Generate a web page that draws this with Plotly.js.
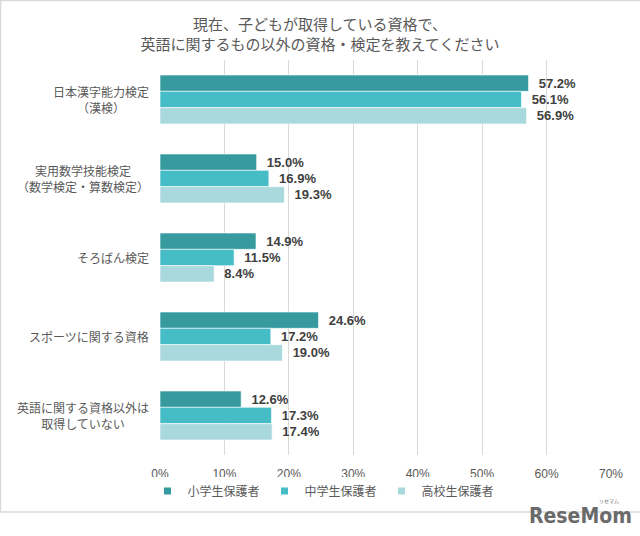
<!DOCTYPE html>
<html>
<head>
<meta charset="utf-8">
<script src="https://cdn.plot.ly/plotly-3.0.1.min.js"></script>
<style>html,body{margin:0;padding:0;background:#fff;}#chart{width:640px;height:536px;}</style>
</head>
<body>
<div id="chart"></div>
<script>
const categories = ["日本漢字能力検定<br>（漢検）", "実用数学技能検定<br>（数学検定・算数検定）", "そろばん検定", "スポーツに関する資格", "英語に関する資格以外は<br>取得していない"];
const seriesNames = ["小学生保護者", "中学生保護者", "高校生保護者"];
const elementary = [57.2, 15.0, 14.9, 24.6, 12.6];
const juniorHigh = [56.1, 16.9, 11.5, 17.2, 17.3];
const highSchool = [56.9, 19.3, 8.4, 19.0, 17.4];
const tickVals = [0, 10, 20, 30, 40, 50, 60, 70];
const tickText = ["0%", "10%", "20%", "30%", "40%", "50%", "60%", "70%"];

const colors = ["#379A9F", "#45BCC6", "#A9D9DD"];
const fontFam = "Liberation Sans, Arial, Noto Sans CJK JP, sans-serif";
const jpFont = "Noto Sans CJK JP, sans-serif";
const seriesData = [elementary, juniorHigh, highSchool];

const traces = seriesData.map((vals, i) => ({
  type: "bar",
  orientation: "h",
  name: seriesNames[i],
  y: categories,
  x: vals,
  text: vals.map(v => "\u00a0\u00a0" + v.toFixed(1) + "%"),
  textposition: "outside",
  cliponaxis: false,
  textfont: {family: fontFam, size: 13, color: "#404040", weight: "bold"},
  marker: {color: colors[i], line: {color: "rgba(255,255,255,0.6)", width: 1}},
  showlegend: false,
  hoverinfo: "none"
}));

// legend entries with small square symbols
seriesNames.forEach((n, i) => {
  traces.push({
    type: "scatter", mode: "markers", name: n,
    x: [null], y: [null],
    marker: {symbol: "square", size: 7, color: colors[i]},
    showlegend: true, hoverinfo: "none"
  });
});

const L = 160, R = 611, T = 60, B = 455, W = 640, H = 536;
const pw = R - L, ph = B - T;
const px = x => (x - L) / pw;
const py = y => (B - y) / ph;

const catAnnotations = categories.map(c => ({
  xref: "paper", yref: "y", x: px(151), y: c,
  xanchor: "right", yanchor: "middle", align: "center",
  text: c, showarrow: false,
  font: {family: jpFont, size: 12, color: "#595959"}
}));

const layout = {
  width: W, height: H,
  margin: {l: L, r: W - R, t: T, b: H - B},
  paper_bgcolor: "#ffffff",
  plot_bgcolor: "#ffffff",
  font: {family: fontFam, color: "#595959", size: 12},
  title: {
    text: "現在、子どもが取得している資格で、<br>英語に関するもの以外の資格・検定を教えてください",
    font: {family: jpFont, size: 15, color: "#595959"},
    x: 0.5, xanchor: "center", xref: "container",
    y: 1 - 30 / H, yanchor: "middle", yref: "container"
  },
  barmode: "group",
  bargap: 0.38,
  bargroupgap: 0,
  showlegend: true,
  legend: {
    orientation: "h",
    x: px(323), xanchor: "center",
    y: py(491), yanchor: "middle",
    font: {family: jpFont, size: 12, color: "#595959"},
    itemwidth: 30,
    entrywidth: 72,
    entrywidthmode: "pixels",
    traceorder: "normal"
  },
  xaxis: {
    range: [0, 70],
    tickvals: tickVals,
    ticktext: tickText,
    showgrid: true,
    gridcolor: "#D9D9D9",
    gridwidth: 1,
    zeroline: false,
    showline: false,
    ticks: "",
    ticklabelstandoff: 10,
    tickfont: {family: fontFam, size: 12, color: "#595959"},
    fixedrange: true
  },
  yaxis: {
    type: "category",
    autorange: "reversed",
    showgrid: false,
    zeroline: false,
    showline: false,
    ticks: "",
    showticklabels: false,
    fixedrange: true
  },
  shapes: [
    {type: "rect", xref: "paper", yref: "paper",
     x0: px(0.5), x1: px(645), y0: py(512), y1: py(0.5),
     line: {color: "#D9D9D9", width: 1.5}, fillcolor: "rgba(0,0,0,0)", layer: "below"}
  ],
  annotations: catAnnotations.concat([
    {xref: "paper", yref: "paper", x: px(580), y: py(516), xanchor: "center", yanchor: "middle",
     text: "<b>ReseMom</b>", showarrow: false,
     font: {family: "DejaVu Sans Condensed, Liberation Sans Narrow, sans-serif", size: 21, color: "#6A6A6A"}},
    {xref: "paper", yref: "paper", x: px(609), y: py(501), xanchor: "center", yanchor: "middle",
     text: "リセマム", showarrow: false,
     font: {family: jpFont, size: 5, color: "#6A6A6A"}}
  ])
};

Plotly.newPlot("chart", traces, layout, {displayModeBar: false, staticPlot: true});
</script>
</body>
</html>
